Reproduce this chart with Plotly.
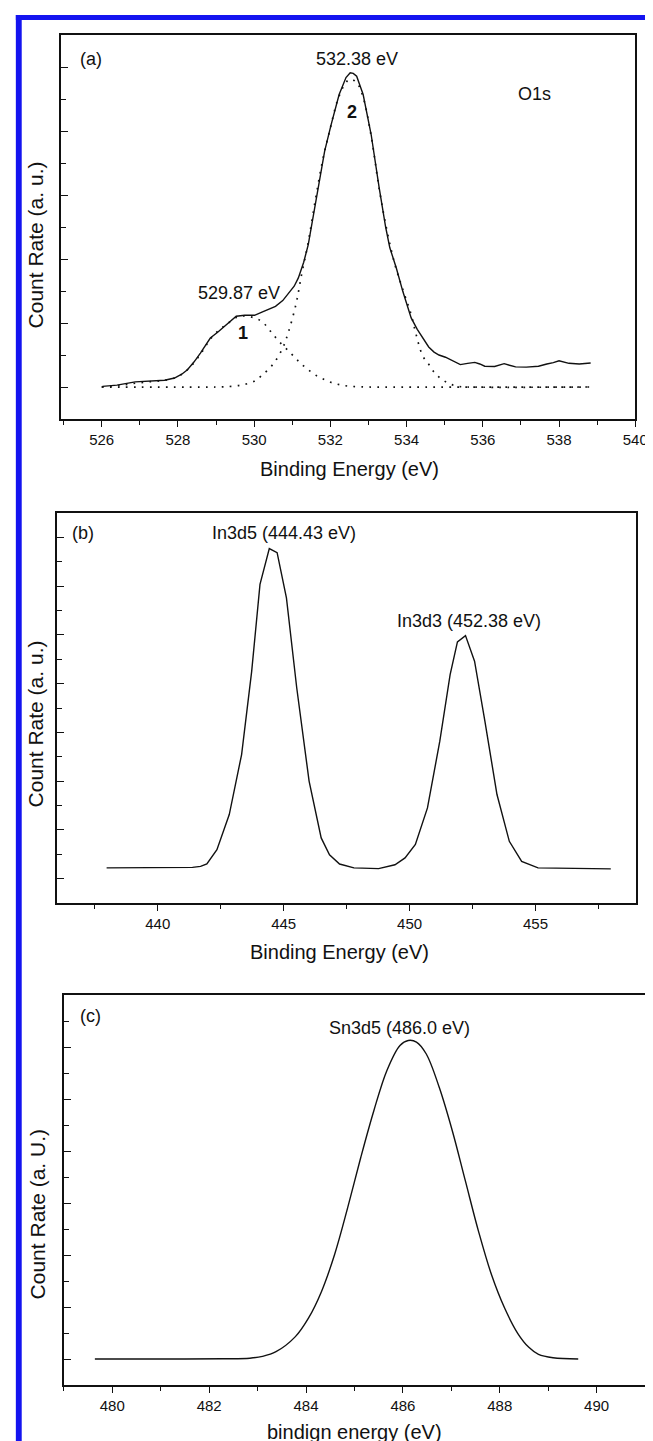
import plotly.graph_objects as go

W, H = 653, 1441

# ---------------- Panel (a): O1s ----------------
a_x = [526.02, 526.4, 526.88, 527.3, 527.65, 527.91, 528.1, 528.25, 528.42, 528.59,
       528.85, 529.05, 529.28, 529.53, 529.75, 530.01, 530.22, 530.56, 530.75, 530.91,
       531.05, 531.16, 531.3, 531.42, 531.63, 531.85, 532.02, 532.23, 532.41, 532.52,
       532.6, 532.69, 532.86, 533.07, 533.28, 533.45, 533.56, 533.73, 533.9, 534.12,
       534.28, 534.42, 534.58, 534.72, 534.85, 535.02, 535.2, 535.41, 535.6, 535.79,
       535.92, 536.05, 536.31, 536.56, 536.7, 536.86, 537.14, 537.46, 537.68, 537.85,
       538.0, 538.12, 538.26, 538.53, 538.83]
a_y = [0.02, 0.06, 0.16, 0.19, 0.21, 0.28, 0.4, 0.54, 0.78, 1.06,
       1.53, 1.72, 1.95, 2.21, 2.24, 2.24, 2.35, 2.52, 2.7, 2.94,
       3.15, 3.41, 3.9, 4.45, 5.91, 7.37, 8.2, 9.14, 9.67, 9.82,
       9.8, 9.71, 9.14, 7.89, 6.23, 5.0, 4.35, 3.72, 2.99, 2.16,
       1.8, 1.53, 1.25, 1.09, 1.0, 0.93, 0.82, 0.70, 0.74, 0.77,
       0.72, 0.65, 0.64, 0.73, 0.68, 0.63, 0.62, 0.65, 0.72, 0.76,
       0.82, 0.78, 0.74, 0.72, 0.75]

# fitted component 1 (529.87 eV)
c1_x = [526.0, 526.5, 526.9, 527.3, 527.65, 527.95, 528.25, 528.6, 528.85, 529.1,
        529.3, 529.55, 529.75, 530.0, 530.22, 530.43, 530.65, 530.99, 531.2, 531.42,
        531.64, 531.85, 532.05, 532.25, 532.45, 532.7, 533.0, 538.83]
c1_y = [0.0, 0.05, 0.12, 0.17, 0.21, 0.3, 0.54, 1.04, 1.5, 1.8,
        1.98, 2.18, 2.22, 2.16, 2.03, 1.74, 1.43, 1.02, 0.76, 0.54,
        0.35, 0.23, 0.13, 0.07, 0.03, 0.01, 0.0, 0.0]

# fitted component 2 (532.38 eV)
c2_x = [526.0, 529.0, 529.4, 529.7, 530.0, 530.2, 530.5, 530.75, 530.9, 531.1,
        531.25, 531.4, 531.6, 531.8, 532.0, 532.2, 532.4, 532.52, 532.7, 532.86,
        533.07, 533.28, 533.5, 533.7, 533.9, 534.12, 534.25, 534.42, 534.6, 534.75,
        534.95, 535.15, 535.35, 535.6, 538.83]
c2_y = [0.0, 0.0, 0.02, 0.07, 0.18, 0.36, 0.72, 1.22, 1.72, 2.6,
        3.55, 4.4, 5.8, 7.1, 8.1, 9.0, 9.5, 9.62, 9.5, 9.05,
        7.85, 6.2, 4.8, 3.8, 3.05, 2.26, 1.64, 0.98, 0.68, 0.42,
        0.22, 0.09, 0.02, 0.0, 0.0]

# ---------------- Panel (b): In3d ----------------
b_x = [437.97, 441.38, 441.7, 441.95, 442.35, 442.84, 443.33, 443.73, 444.06, 444.43,
       444.74, 445.11, 445.52, 446.01, 446.49, 446.82, 447.22, 447.79, 448.77, 449.42,
       449.82, 450.23, 450.71, 451.2, 451.61, 451.9, 452.22, 452.58, 452.99, 453.47,
       453.96, 454.45, 455.1, 457.99]
b_y = [0.44, 0.46, 0.5, 0.6, 1.19, 2.63, 5.09, 8.5, 12.07, 13.54,
       13.37, 11.52, 7.82, 4.0, 1.67, 0.98, 0.6, 0.44, 0.41, 0.57,
       0.85, 1.4, 2.9, 5.64, 8.37, 9.71, 9.97, 8.92, 6.46, 3.45,
       1.53, 0.71, 0.44, 0.4]

# ---------------- Panel (c): Sn3d5 ----------------
c_x = [479.64, 481.5, 482.3, 482.84, 483.1, 483.38, 483.78, 484.05, 484.32, 484.59,
       484.86, 485.13, 485.4, 485.67, 485.94, 486.11, 486.28, 486.48, 486.75, 487.02,
       487.29, 487.56, 487.83, 488.1, 488.37, 488.6, 488.8, 489.1, 489.62]
c_y = [0.0, 0.0, 0.01, 0.03, 0.1, 0.28, 0.86, 1.57, 2.6, 4.02,
       5.82, 7.75, 9.55, 11.1, 12.06, 12.25, 12.19, 11.74, 10.45, 8.78,
       6.85, 4.92, 3.24, 1.96, 0.99, 0.45, 0.18, 0.05, 0.0]

FONT = "Liberation Sans, Arial, sans-serif"
BLACK = "#111111"


def px_dom_x(a, b):
    return [a / W, b / W]


def px_dom_y(top, bottom):
    return [1 - bottom / H, 1 - top / H]


fig = go.Figure()

line_solid = dict(color=BLACK, width=1.4)
line_dot = dict(color=BLACK, width=1.7, dash="1.7px,6.3px")

fig.add_trace(go.Scatter(x=a_x, y=a_y, mode="lines", line=line_solid,
                         xaxis="x", yaxis="y", name="O1s", showlegend=False))
fig.add_trace(go.Scatter(x=c1_x, y=c1_y, mode="lines", line=line_dot, line_shape="spline",
                         xaxis="x", yaxis="y", name="peak 1", showlegend=False))
fig.add_trace(go.Scatter(x=c2_x, y=c2_y, mode="lines", line=line_dot, line_shape="spline",
                         xaxis="x", yaxis="y", name="peak 2", showlegend=False))
fig.add_trace(go.Scatter(x=b_x, y=b_y, mode="lines", line=line_solid,
                         xaxis="x2", yaxis="y2", name="In3d", showlegend=False))
fig.add_trace(go.Scatter(x=c_x, y=c_y, mode="lines", line=line_solid, line_shape="spline",
                         xaxis="x3", yaxis="y3", name="Sn3d5", showlegend=False))


def xaxis(dom, rng, tick0, dtick, mdtick, anchor):
    return dict(domain=dom, range=rng, anchor=anchor, showline=True, mirror=True,
                linecolor=BLACK, linewidth=1.6, showgrid=False, zeroline=False,
                ticks="outside", ticklen=6, tickwidth=1.4, tickcolor=BLACK,
                tick0=tick0, dtick=dtick,
                minor=dict(dtick=mdtick, ticks="outside", ticklen=4, tickwidth=1.2,
                           tickcolor=BLACK, showgrid=False),
                tickfont=dict(family=FONT, size=15, color=BLACK))


def yaxis(dom, rng, anchor):
    return dict(domain=dom, range=rng, anchor=anchor, showline=True, mirror=True,
                linecolor=BLACK, linewidth=1.6, showgrid=False, zeroline=False,
                ticks="inside", ticklen=7, tickwidth=1.4, tickcolor=BLACK,
                tick0=0, dtick=2, showticklabels=False,
                minor=dict(dtick=1, ticks="inside", ticklen=5, tickwidth=1.2,
                           tickcolor=BLACK, showgrid=False))


fig.update_layout(
    width=W, height=H,
    margin=dict(l=0, r=0, t=0, b=0),
    paper_bgcolor="white", plot_bgcolor="white",
    showlegend=False,
    xaxis=xaxis(px_dom_x(54, 640), [524.93, 540], 526, 2, 1, "y"),
    yaxis=yaxis(px_dom_y(27, 411), [-1, 11], "x"),
    xaxis2=xaxis(px_dom_x(50, 641), [436, 459], 440, 5, 2.5, "y2"),
    yaxis2=yaxis(px_dom_y(505, 895), [-1, 15], "x2"),
    xaxis3=xaxis(px_dom_x(57, 650), [479, 491], 480, 2, 1, "y3"),
    yaxis3=yaxis(px_dom_y(987, 1377), [-1, 14], "x3"),
)

# axis titles (placed at measured pixel positions)
title_font = dict(family=FONT, size=20, color=BLACK)
xtitles = [(348, 461, "Binding Energy (eV)"),
           (338, 944, "Binding Energy (eV)"),
           (354, 1424, "bindign energy (eV)")]
for cx, cy, txt in xtitles:
    fig.add_annotation(xref="paper", yref="paper", x=cx / W, y=1 - cy / H, text=txt,
                       showarrow=False, font=title_font, xanchor="center", yanchor="middle")
ytitles = [(28, 237, "Count Rate (a. u.)"),
           (28, 716, "Count Rate (a. u.)"),
           (30, 1206, "Count Rate (a. U.)")]
for cx, cy, txt in ytitles:
    fig.add_annotation(xref="paper", yref="paper", x=cx / W, y=1 - cy / H, text=txt,
                       textangle=-90, showarrow=False,
                       font=dict(family=FONT, size=21, color=BLACK),
                       xanchor="center", yanchor="middle")

ann_font = dict(family=FONT, size=18, color=BLACK)
labels = [
    ("x", "y", 525.73, 10.24, "(a)"),
    ("x", "y", 532.70, 10.24, "532.38 eV"),
    ("x", "y", 537.36, 9.16, "O1s"),
    ("x", "y", 529.59, 2.94, "529.87 eV"),
    ("x", "y", 529.72, 1.69, "<b>1</b>"),
    ("x", "y", 532.56, 8.6, "<b>2</b>"),
    ("x2", "y2", 437.05, 14.17, "(b)"),
    ("x2", "y2", 445.03, 14.17, "In3d5 (444.43 eV)"),
    ("x2", "y2", 452.34, 10.56, "In3d3 (452.38 eV)"),
    ("x3", "y3", 479.54, 13.18, "(c)"),
    ("x3", "y3", 485.94, 12.74, "Sn3d5 (486.0 eV)"),
]
for xr, yr, xv, yv, txt in labels:
    fig.add_annotation(xref=xr, yref=yr, x=xv, y=yv, text=txt, showarrow=False,
                       font=ann_font, xanchor="center", yanchor="middle")

# blue page border (top and left)
BLUE = "#1414f0"
fig.add_shape(type="rect", xref="paper", yref="paper",
              x0=8 / W, x1=1, y0=1 - 12 / H, y1=1 - 7 / H,
              fillcolor=BLUE, line=dict(width=0), layer="above")
fig.add_shape(type="rect", xref="paper", yref="paper",
              x0=8 / W, x1=14 / W, y0=0, y1=1 - 7 / H,
              fillcolor=BLUE, line=dict(width=0), layer="above")

fig.write_html("out.html")
